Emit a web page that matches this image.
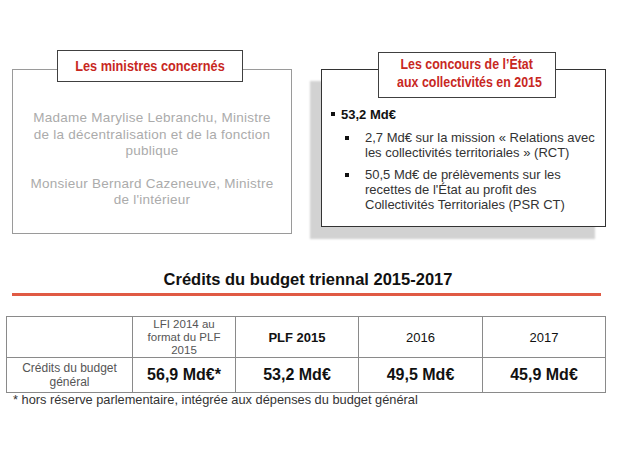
<!DOCTYPE html>
<html>
<head>
<meta charset="utf-8">
<script src="https://cdn.jsdelivr.net/npm/chart.js@4"></script>
<style>
  body { margin: 0; width: 620px; height: 465px; background: #fff; position: relative; overflow: hidden;
         font-family: "Liberation Sans", Arial, sans-serif; }
  .abs { position: absolute; }
  .squeeze { display: inline-block; white-space: nowrap; transform-origin: center; }
  #leftBox { left: 12px; top: 69px; width: 278px; height: 163px; border: 1.5px solid #9a9a9a; }
  #leftTitle { left: 57px; top: 50px; width: 184px; height: 30px; border: 1.5px solid #404040; background: #fff;
               color: #c8281f; font-weight: bold; font-size: 15px; text-align: center; line-height: 30px; }
  #leftTitle .squeeze { transform: scaleX(0.85); }
  #leftText { left: 12px; top: 110px; width: 280px; text-align: center; color: #ababab; font-size: 13.5px;
              line-height: 16.5px; letter-spacing: 0.25px; }
  #leftText p { margin: 0 0 16px 0; }
  #rightBox { left: 321px; top: 69px; width: 283px; height: 156px; border: 1.5px solid #333;
              background: #fff; box-shadow: -11px 12px 2px #d2d2d2; }
  #rightTitle { left: 378px; top: 52px; width: 176px; height: 42px; border: 1.5px solid #404040; background: #fff;
                color: #c8281f; font-weight: bold; font-size: 15.5px; text-align: center; line-height: 17.5px;
                padding-top: 2px; box-sizing: content-box; }
  #rightTitle .squeeze { transform: scaleX(0.8); }
  #rightText { left: 330px; top: 107px; width: 270px; font-size: 13px; color: #333; line-height: 15px; }
  #title { left: 0; top: 270px; width: 616px; text-align: center; font-weight: bold; font-size: 16.5px; color: #111; }
  #rule { left: 12px; top: 293px; width: 589px; height: 2.5px; background: #e05a44; }
  table { position: absolute; left: 6px; top: 316px; width: 600px; border-collapse: collapse; table-layout: fixed; }
  td { border: 1px solid #8a8a8a; text-align: center; vertical-align: middle; padding: 0; }
  #note { left: 13px; top: 392px; font-size: 12.8px; color: #333; }
</style>
</head>
<body>
<div class="abs" id="leftBox"></div>
<div class="abs" id="leftTitle"><span class="squeeze">Les ministres concernés</span></div>
<div class="abs" id="leftText"></div>

<div class="abs" id="rightBox"></div>
<div class="abs" id="rightTitle"><span class="squeeze">Les concours de l’État</span><br><span class="squeeze">aux collectivités en 2015</span></div>
<div class="abs" id="rightText"></div>

<div class="abs" id="title">Crédits du budget triennal 2015-2017</div>
<div class="abs" id="rule"></div>
<table id="tbl"></table>
<div class="abs" id="note"></div>

<script>
// Slide contents
const ministers = [
    ["Madame Marylise Lebranchu, Ministre", "de la décentralisation et de la fonction", "publique"],
    ["Monsieur Bernard Cazeneuve, Ministre", "de l'intérieur"]
];
const concoursTotal = "53,2 Md€";
const concoursItems = [
    ["2,7 Md€ sur la mission « Relations avec", "les collectivités territoriales » (RCT)"],
    ["50,5 Md€ de prélèvements sur  les", "recettes de l'État au profit des", "Collectivités Territoriales (PSR CT)"]
];

// Budget table
const columns = ["LFI 2014 au format du PLF 2015", "PLF 2015", "2016", "2017"];
const rowLabel = "Crédits du budget général";
const values = [56.9, 53.2, 49.5, 45.9];
const valueMarks = ["*", "", "", ""];
const footnote = "* hors réserve parlementaire, intégrée aux dépenses du budget général";

(function () {
    let leftText = document.getElementById('leftText');
    leftText.innerHTML = ministers.map((p) => '<p>' + p.join('<br>') + '</p>').join('');

    let rightText = document.getElementById('rightText');
    let html = '<div style="font-weight:bold;color:#111;margin-bottom:8px">' +
        '<span style="display:inline-block;width:4px;height:4px;background:#111;margin:0 6px 3px 1px"></span>' +
        concoursTotal + '</div>';
    concoursItems.forEach((lines) => {
        html += '<div style="position:relative;padding-left:35px;margin-bottom:7px">' +
            '<span style="position:absolute;left:15px;top:6px;width:4px;height:4px;background:#111"></span>' +
            lines.join('<br>') + '</div>';
    });
    rightText.innerHTML = html;

    // Build the table
    let widths = [126, 103, 123, 124, 123];
    let tbl = document.getElementById('tbl');
    let cols = '<colgroup>' + widths.map((w) => '<col style="width:' + w + 'px">').join('') + '</colgroup>';
    let head = '<tr style="height:41px"><td></td>';
    columns.forEach((c, i) => {
        let style = 'font-size:13px;color:#111';
        if (i === 0) style = 'font-size:11.5px;color:#555;line-height:13px;padding:0 12px';
        if (i === 1) style += ';font-weight:bold';
        head += '<td style="' + style + '">' + c + '</td>';
    });
    head += '</tr>';
    let body = '<tr style="height:35px"><td style="font-size:12px;color:#555;line-height:14px;padding:0 12px">' + rowLabel + '</td>';
    values.forEach((v, i) => {
        body += '<td style="font-size:16px;font-weight:bold;color:#111">' +
            v.toFixed(1).replace('.', ',') + ' Md€' + valueMarks[i] + '</td>';
    });
    body += '</tr>';
    tbl.innerHTML = cols + head + body;

    document.getElementById('note').textContent = footnote;
})();
</script>
</body>
</html>
